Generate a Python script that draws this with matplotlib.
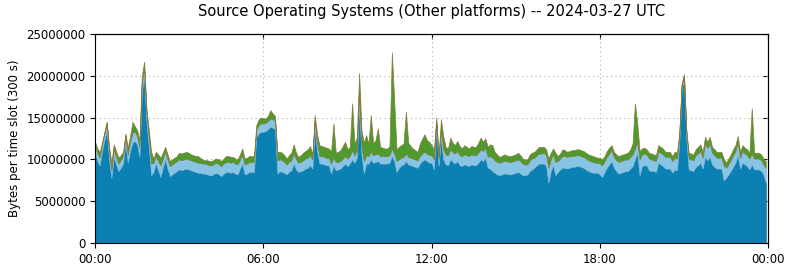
import numpy as np
from matplotlib import pyplot as plt

# values in millions of bytes per 5-minute slot, one row per hour
total = [
    12.1, 11.3, 10.9, 12.0, 13.2, 14.3, 11.5, 9.6, 11.8, 11.0, 10.2, 10.5,
    10.9, 13.1, 11.4, 12.8, 14.5, 14.0, 13.5, 12.3, 19.9, 21.7, 16.0, 13.5,
    10.9, 10.1, 10.9, 10.6, 10.2, 10.8, 11.5, 10.6, 9.8, 10.0, 10.2, 10.4,
    10.8, 10.7, 10.8, 10.9, 10.8, 10.6, 10.5, 10.4, 10.4, 10.2, 10.0, 9.9,
    9.9, 9.8, 9.8, 10.0, 10.1, 10.0, 9.8, 10.1, 10.4, 10.4, 10.3, 10.3,
    10.1, 10.0, 10.6, 11.3, 10.1, 10.2, 10.4, 10.4, 10.4, 14.1, 14.8, 15.0,
    14.9, 14.9, 15.2, 15.9, 15.5, 15.2, 10.9, 10.9, 10.8, 10.5, 10.1, 10.5,
    10.8, 11.8, 10.8, 10.3, 10.5, 10.8, 11.0, 11.2, 11.6, 10.6, 15.3, 13.0,
    11.7, 11.6, 11.5, 11.4, 11.3, 10.9, 14.3, 10.8, 10.9, 11.1, 11.6, 12.1,
    11.2, 11.5, 16.7, 11.9, 12.6, 20.3, 13.5, 12.0, 12.9, 11.9, 15.3, 11.9,
    12.3, 13.7, 11.5, 11.4, 11.3, 11.3, 11.6, 22.8, 17.0, 11.2, 11.5, 11.7,
    11.9, 15.7, 12.0, 11.6, 11.3, 11.1, 10.9, 11.9, 12.5, 13.0, 12.3, 12.1,
    11.7, 11.2, 15.0, 10.4, 14.8, 12.8, 11.5, 11.3, 12.6, 12.0, 11.7, 12.2,
    11.6, 11.3, 11.7, 11.5, 11.3, 11.6, 11.5, 11.5, 12.0, 12.6, 12.1, 12.5,
    11.5, 11.8, 11.7, 10.9, 10.6, 10.3, 10.4, 10.6, 10.5, 10.4, 10.4, 10.5,
    10.6, 10.8, 10.5, 10.1, 10.0, 10.0, 10.6, 10.8, 10.9, 11.2, 11.5, 11.5,
    11.5, 11.2, 10.1, 10.8, 11.3, 10.8, 10.4, 10.7, 11.2, 11.1, 10.9, 11.0,
    11.1, 11.1, 11.2, 11.2, 11.1, 11.0, 10.8, 10.6, 10.5, 10.4, 10.3, 10.2,
    10.2, 10.0, 10.4, 11.0, 11.4, 11.7, 10.9, 10.6, 10.4, 10.5, 10.6, 10.7,
    10.8, 11.2, 11.9, 16.7, 14.3, 11.0, 11.3, 11.4, 11.2, 10.8, 10.7, 10.6,
    10.5, 11.7, 11.5, 11.3, 10.9, 10.9, 10.9, 10.4, 10.9, 10.8, 13.0, 19.1,
    20.2, 13.5, 10.8, 10.7, 10.6, 11.2, 11.5, 11.8, 10.9, 12.7, 12.1, 12.7,
    11.5, 11.2, 10.9, 10.9, 10.9, 10.1, 9.6, 10.1, 10.6, 11.2, 11.7, 12.8,
    10.9, 11.7, 11.4, 11.2, 10.8, 16.1, 10.8, 10.8, 10.8, 10.6, 10.1, 9.8,
]

dark = [
    10.8, 9.8, 9.3, 11.0, 12.3, 13.5, 10.0, 7.8, 10.3, 9.4, 8.6, 9.0,
    9.5, 12.0, 9.6, 11.0, 12.0, 12.2, 11.8, 10.3, 18.0, 19.9, 14.5, 11.5,
    8.1, 8.5, 9.5, 8.7, 7.9, 9.0, 10.0, 8.9, 8.0, 8.2, 8.4, 8.6,
    8.8, 8.7, 8.8, 8.9, 8.8, 8.7, 8.6, 8.5, 8.4, 8.4, 8.3, 8.3,
    8.2, 8.1, 8.1, 8.3, 8.4, 8.2, 8.0, 8.3, 8.5, 8.5, 8.4, 8.5,
    8.3, 8.2, 8.9, 9.5, 8.2, 8.3, 8.5, 8.5, 8.5, 12.7, 13.1, 13.3,
    13.3, 13.4, 13.6, 13.9, 13.8, 13.6, 8.3, 8.6, 8.5, 8.4, 8.2, 8.5,
    8.7, 9.5, 8.8, 8.5, 8.6, 8.7, 8.9, 9.0, 9.3, 8.9, 13.6, 11.0,
    9.5, 9.5, 9.4, 9.3, 9.3, 8.3, 9.3, 8.7, 8.8, 8.9, 9.2, 9.5,
    9.2, 9.5, 10.0, 9.6, 10.2, 16.3, 10.5, 8.3, 9.5, 9.5, 10.0, 9.6,
    9.7, 9.8, 9.5, 9.5, 9.5, 9.5, 9.6, 10.4, 9.8, 8.5, 9.0, 9.3,
    9.4, 9.8, 9.4, 9.3, 9.2, 9.1, 9.0, 9.5, 9.8, 10.0, 9.8, 9.6,
    9.6, 8.8, 13.9, 9.2, 12.4, 10.0, 9.4, 9.3, 10.0, 9.7, 9.5, 9.8,
    9.3, 9.2, 9.4, 9.3, 9.2, 9.4, 9.3, 9.3, 9.6, 10.0, 9.8, 10.2,
    9.0, 8.9, 8.6, 8.4, 8.2, 8.1, 8.2, 8.3, 8.3, 8.2, 8.2, 8.3,
    8.4, 8.5, 8.3, 8.1, 8.1, 8.2, 8.6, 8.8, 9.0, 9.3, 9.5, 9.5,
    9.5, 9.2, 7.2, 8.6, 9.3, 8.1, 8.5, 8.8, 9.0, 9.0, 8.9, 9.0,
    9.1, 9.1, 9.2, 9.2, 9.1, 9.0, 8.8, 8.6, 8.5, 8.4, 8.4, 8.4,
    8.2, 7.9, 8.5, 9.0, 9.4, 9.8, 9.0, 8.6, 8.3, 8.4, 8.5, 8.6,
    8.6, 8.9, 9.2, 10.0, 10.8, 8.1, 9.2, 9.3, 9.3, 8.7, 8.6, 8.6,
    8.5, 9.6, 9.4, 9.2, 8.9, 8.9, 8.9, 8.4, 8.8, 8.7, 12.0, 18.5,
    19.5, 12.5, 8.8, 8.7, 8.6, 9.1, 9.3, 9.6, 8.9, 10.3, 9.9, 10.3,
    9.4, 9.1, 8.9, 8.9, 8.9, 7.5, 7.8, 8.2, 8.6, 9.1, 9.6, 10.5,
    8.9, 9.6, 9.4, 9.2, 8.8, 9.4, 8.8, 8.8, 8.8, 8.6, 8.2, 7.2,
]

light = [
    0.9, 0.9, 0.9, 0.8, 0.8, 0.8, 0.9, 0.9, 0.9, 0.9, 0.9, 0.9,
    0.9, 0.8, 1.0, 1.1, 1.2, 1.1, 1.0, 1.1, 1.1, 1.1, 1.0, 1.2,
    1.4, 1.1, 0.9, 1.1, 1.4, 1.1, 0.9, 1.1, 1.2, 1.2, 1.2, 1.2,
    1.2, 1.2, 1.2, 1.2, 1.2, 1.2, 1.2, 1.2, 1.2, 1.2, 1.2, 1.2,
    1.2, 1.2, 1.2, 1.2, 1.2, 1.2, 1.2, 1.2, 1.2, 1.2, 1.2, 1.2,
    1.2, 1.2, 1.1, 1.0, 1.2, 1.2, 1.2, 1.2, 1.2, 0.9, 1.0, 1.0,
    1.0, 1.0, 1.0, 1.0, 1.0, 1.0, 1.6, 1.4, 1.4, 1.3, 1.2, 1.2,
    1.2, 1.2, 1.2, 1.1, 1.1, 1.2, 1.2, 1.2, 1.2, 1.1, 1.0, 1.0,
    0.9, 0.9, 0.9, 0.9, 0.9, 1.2, 0.9, 1.0, 0.9, 0.9, 0.9, 0.9,
    0.9, 0.9, 1.1, 0.9, 0.9, 1.8, 1.0, 1.5, 1.0, 0.9, 0.9, 0.9,
    0.9, 0.9, 0.9, 0.9, 0.9, 0.9, 0.9, 0.9, 0.9, 1.3, 1.0, 0.9,
    0.9, 0.9, 0.9, 0.9, 0.9, 0.9, 0.9, 0.9, 0.9, 0.9, 0.9, 0.9,
    0.9, 1.2, 0.6, 0.8, 1.0, 1.2, 1.2, 1.2, 1.2, 1.2, 1.2, 1.2,
    1.2, 1.2, 1.2, 1.2, 1.2, 1.2, 1.2, 1.2, 1.2, 1.2, 1.2, 1.2,
    1.3, 1.5, 1.6, 1.5, 1.5, 1.5, 1.5, 1.5, 1.5, 1.5, 1.5, 1.5,
    1.5, 1.5, 1.5, 1.4, 1.3, 1.2, 1.3, 1.3, 1.2, 1.2, 1.2, 1.2,
    1.3, 1.3, 1.8, 1.4, 1.3, 1.6, 1.3, 1.3, 1.4, 1.4, 1.4, 1.4,
    1.3, 1.3, 1.3, 1.3, 1.3, 1.3, 1.3, 1.3, 1.3, 1.3, 1.2, 1.2,
    1.3, 1.4, 1.3, 1.3, 1.3, 1.3, 1.3, 1.3, 1.4, 1.4, 1.4, 1.4,
    1.4, 1.4, 1.4, 1.3, 1.3, 1.9, 1.4, 1.4, 1.3, 1.4, 1.4, 1.3,
    1.3, 1.3, 1.4, 1.4, 1.4, 1.4, 1.4, 1.4, 1.4, 1.4, 0.9, 0.4,
    0.4, 0.8, 1.3, 1.3, 1.3, 1.4, 1.4, 1.4, 1.3, 1.6, 1.5, 1.6,
    1.4, 1.4, 1.3, 1.3, 1.3, 1.8, 1.2, 1.2, 1.3, 1.4, 1.4, 1.5,
    1.3, 1.4, 1.3, 1.3, 1.3, 1.3, 1.3, 1.3, 1.3, 1.3, 1.2, 1.8,
]

hour_ticks = [0, 6, 12, 18, 24]
hour_labels = ['00:00', '06:00', '12:00', '18:00', '00:00']

total = np.array(total) * 1e6
dark = np.array(dark) * 1e6
light = np.array(light) * 1e6
green = np.clip(total - dark - light, 0.2e6, None)

hours = np.arange(len(total)) * 300 / 3600.0

fig = plt.figure(figsize=(7.9, 2.67), dpi=100)
ax = fig.add_axes([0.1203, 0.0899, 0.852, 0.7828])

polys = ax.stackplot(hours, dark, light, green,
                     colors=['#0a80b3', '#88c5e4', '#4f9a2c'],
                     linewidth=0.5)
polys[0].set_edgecolor('#17628a')
polys[1].set_edgecolor('#78b8dc')
polys[2].set_edgecolor('#8a7a3a')

ax.set_xlim(0, 24)
ax.set_ylim(0, 25000000)
ax.set_xticks(hour_ticks)
ax.set_xticklabels(hour_labels)
ax.set_yticks(np.arange(0, 25000001, 5000000))
ax.ticklabel_format(axis='y', style='plain', useOffset=False)
ax.grid(True, color='#b0b0b0', linestyle=(0, (1, 3)), linewidth=0.8)
ax.set_axisbelow(True)
ax.tick_params(labelsize=8.5)

top = ax.secondary_xaxis('top')
top.set_xticks(hour_ticks)
top.tick_params(direction='in', labeltop=False)
right = ax.secondary_yaxis('right')
right.set_yticks(np.arange(0, 25000001, 5000000))
right.tick_params(direction='in', labelright=False)

ax.set_ylabel('Bytes per time slot (300 s)', fontsize=8.5)
ax.set_title('Source Operating Systems (Other platforms) -- 2024-03-27 UTC',
             fontsize=10.5, pad=13)

plt.savefig('out.png', dpi=100)
